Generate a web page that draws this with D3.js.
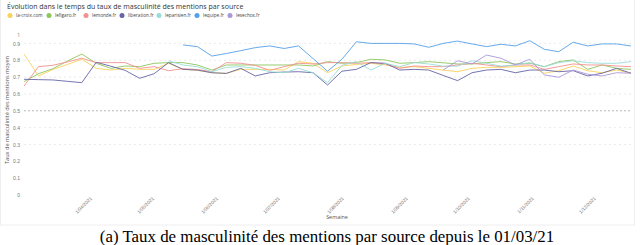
<!DOCTYPE html>
<html>
<head>
<meta charset="utf-8">
<script src="https://cdn.jsdelivr.net/npm/d3@7"></script>
<style>
  body { margin: 0; background: #fff; }
  svg { display: block; font-family: "Open Sans", "DejaVu Sans", sans-serif; }
</style>
</head>
<body>
<svg id="chart" width="640" height="245"></svg>
<script>
// --- Données : taux de masculinité par source, hebdomadaire depuis le 01/03/21 ---
const startDate = new Date(2021, 2, 1);
const nWeeks = 43;
const weeks = d3.range(nWeeks).map(i => d3.timeWeek.offset(startDate, i));

const sources = ["la-croix.com", "lefigaro.fr", "lemonde.fr", "liberation.fr", "leparisien.fr", "lequipe.fr", "lesechos.fr"];
const colors = ["#f8d35a", "#8cc65c", "#f39090", "#6464a6", "#98dcd9", "#55a0e8", "#ab96da"];

const lacroix = [0.837, 0.707, 0.745, 0.775, 0.806, 0.752, 0.742, 0.752, 0.746, 0.746, 0.782,
  0.746, 0.74, 0.726, 0.722, 0.746, 0.746, 0.746, 0.742, 0.792, 0.782, 0.726, 0.766, 0.775,
  0.782, 0.772, 0.758, 0.762, 0.752, 0.742, 0.732, 0.752, 0.758, 0.758, 0.762, 0.766, 0.723,
  0.738, 0.766, 0.738, 0.726, 0.742, 0.723];
const lefigaro = [0.673, 0.72, 0.75, 0.795, 0.837, 0.782, 0.752, 0.766, 0.762, 0.782, 0.786,
  0.786, 0.772, 0.742, 0.772, 0.772, 0.772, 0.772, 0.772, 0.772, 0.766, 0.792, 0.782, 0.786,
  0.806, 0.802, 0.782, 0.786, 0.792, 0.785, 0.778, 0.778, 0.786, 0.792, 0.778, 0.782, 0.762,
  0.792, 0.802, 0.746, 0.772, 0.752, 0.746];
const lemonde = [0.647, 0.762, 0.77, 0.79, 0.812, 0.786, 0.786, 0.786, 0.752, 0.762, 0.738,
  0.75, 0.745, 0.732, 0.786, 0.782, 0.77, 0.74, 0.762, 0.782, 0.778, 0.786, 0.786, 0.782,
  0.786, 0.778, 0.752, 0.766, 0.762, 0.762, 0.772, 0.782, 0.772, 0.762, 0.772, 0.772, 0.746,
  0.762, 0.778, 0.772, 0.772, 0.766, 0.762];
const liberation = [0.687, 0.685, 0.683, 0.675, 0.667, 0.788, 0.765, 0.74, 0.693, 0.72, 0.786,
  0.746, 0.742, 0.726, 0.722, 0.752, 0.707, 0.726, 0.73, 0.732, 0.726, 0.653, 0.735, 0.746,
  0.786, 0.782, 0.742, 0.746, 0.742, 0.71, 0.679, 0.726, 0.742, 0.746, 0.726, 0.742, 0.742,
  0.732, 0.738, 0.707, 0.723, 0.752, 0.723];
const leparisien = [null, null, null, null, null, null, null, null, null, null, 0.797,
  0.772, 0.762, 0.732, 0.758, 0.762, 0.752, 0.732, 0.726, 0.752, 0.726, 0.667, 0.77, 0.792,
  0.742, 0.782, 0.762, 0.786, 0.778, 0.765, 0.765, 0.797, 0.782, 0.765, 0.772, 0.786, 0.762,
  0.786, 0.797, 0.786, 0.782, 0.782, 0.792];
const lequipe = [null, null, null, null, null, null, null, null, null, null, null,
  0.891, 0.881, 0.825, 0.84, 0.857, 0.875, 0.885, 0.87, 0.885, 0.81, 0.735, 0.806, 0.91,
  0.9, 0.9, 0.9, 0.897, 0.877, 0.9, 0.914, 0.897, 0.881, 0.895, 0.885, 0.916, 0.865,
  0.851, 0.907, 0.885, 0.897, 0.897, 0.885];
const lesechos = [null, null, null, null, null, null, null, null, null, null, null,
  null, null, null, null, null, null, null, null, null, null, null, null, null,
  null, null, null, null, null, 0.742, 0.797, 0.778, 0.831, 0.812, 0.772, 0.806, 0.713,
  0.699, 0.742, 0.717, 0.707, 0.726, 0.723];

const seriesValues = [lacroix, lefigaro, lemonde, liberation, leparisien, lequipe, lesechos];
const yTicks = [0, 0.1, 0.2, 0.3, 0.4, 0.5, 0.6, 0.7, 0.8, 0.9];
const monthTicks = d3.range(3, 12).map(m => new Date(2021, m, 1));

const svg = d3.select("#chart"),
    margin = { top: 35, right: 9, bottom: 50, left: 24 },
    width = +svg.attr("width") - margin.left - margin.right,
    height = +svg.attr("height") - margin.top - margin.bottom;

// cadre léger du graphique
svg.append("rect")
    .attr("x", 0.5).attr("y", -1)
    .attr("width", 634).attr("height", 226)
    .attr("fill", "none")
    .attr("stroke", "#eeeeee");

// titre + légende
svg.append("text")
    .attr("x", 7).attr("y", 8.5)
    .attr("font-size", 7)
    .attr("fill", "#333")
    .text("Évolution dans le temps du taux de masculinité des mentions par source");

const legendX = [10, 49, 86, 122, 159, 197, 230];
const legend = svg.append("g").selectAll("g")
    .data(sources)
    .enter()
    .append("g")
    .attr("transform", (d, i) => `translate(${legendX[i]},15.5)`);
legend.append("circle").attr("r", 2.5).attr("fill", (d, i) => colors[i]);
legend.append("text")
    .attr("x", 6).attr("y", 1.7)
    .attr("font-size", 4.7)
    .attr("fill", "#444")
    .text(d => d);

const g = svg.append("g").attr("transform", `translate(${margin.left},${margin.top})`);

const x = d3.scaleTime()
    .domain([weeks[0], weeks[nWeeks - 1]])
    .range([0, width]);

const y = d3.scaleLinear()
    .domain([0, 0.95])
    .range([height, 0]);

// grille
g.selectAll(".grid")
    .data(yTicks.filter(t => t >= 0.3 && t !== 0.5))
    .enter()
    .append("line")
    .attr("x1", 0).attr("x2", width)
    .attr("y1", d => y(d)).attr("y2", d => y(d))
    .attr("stroke", "#e4e4e4")
    .attr("stroke-width", 0.8)
    .attr("stroke-dasharray", "2,3");

g.append("line")
    .attr("x1", 0).attr("x2", width)
    .attr("y1", y(0.5)).attr("y2", y(0.5))
    .attr("stroke", "#b8b8b8")
    .attr("stroke-width", 1)
    .attr("stroke-dasharray", "2,2");

// axe Y
const yAxis = g.append("g")
    .call(d3.axisLeft(y).tickValues(yTicks).tickSize(0).tickPadding(4).tickFormat(d3.format("")));
yAxis.select(".domain").remove();
yAxis.selectAll("text").attr("font-size", 5).attr("fill", "#777");
g.append("text")
    .attr("x", -4).attr("y", y(y.domain()[1]) + 2)
    .attr("text-anchor", "end")
    .attr("font-size", 5).attr("fill", "#777")
    .text("1");

svg.append("text")
    .attr("transform", `translate(9,${margin.top + height / 2 - 5}) rotate(-90)`)
    .attr("text-anchor", "middle")
    .attr("font-size", 5.6)
    .attr("fill", "#555")
    .text("Taux de masculinité des mentions moyen");

// axe X
const xAxis = g.append("g")
    .attr("transform", `translate(0,${height})`)
    .call(d3.axisBottom(x).tickValues(monthTicks).tickSize(0).tickPadding(4)
        .tickFormat(d3.timeFormat("%-d/%m/%Y")));
xAxis.select(".domain").remove();
xAxis.selectAll("text")
    .attr("font-size", 4.8)
    .attr("fill", "#777")
    .attr("text-anchor", "end")
    .attr("dy", "0.3em")
    .attr("transform", "rotate(-45)");

svg.append("text")
    .attr("x", 337).attr("y", 219)
    .attr("text-anchor", "middle")
    .attr("font-size", 5.4)
    .attr("fill", "#555")
    .text("Semaine");

// courbes
const line = d3.line()
    .defined(d => d.v != null)
    .x(d => x(d.date))
    .y(d => y(d.v));

seriesValues.forEach((vals, k) => {
    g.append("path")
        .datum(vals.map((v, i) => ({ date: weeks[i], v: v })))
        .attr("fill", "none")
        .attr("stroke", colors[k])
        .attr("stroke-width", 0.9)
        .attr("d", line);
});

// légende de la figure
svg.append("text")
    .attr("x", 327).attr("y", 242)
    .attr("text-anchor", "middle")
    .attr("font-family", "'Liberation Serif', 'DejaVu Serif', serif")
    .attr("font-size", 16.9)
    .attr("fill", "#000")
    .text("(a) Taux de masculinité des mentions par source depuis le 01/03/21");
</script>
</body>
</html>
